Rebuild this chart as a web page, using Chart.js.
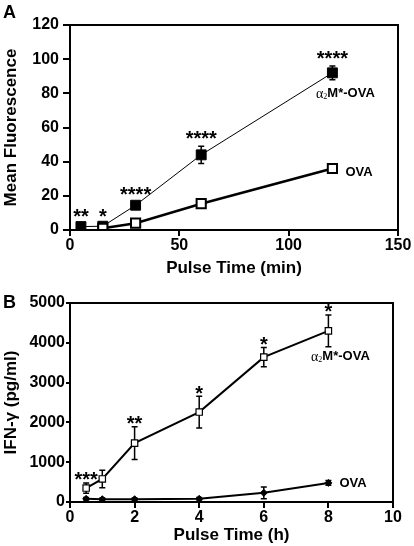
<!DOCTYPE html>
<html>
<head>
<meta charset="utf-8">
<script src="https://cdn.jsdelivr.net/npm/chart.js@4.4.1/dist/chart.umd.min.js"></script>
<style>
html, body { margin: 0; padding: 0; background: #fff; }
#wrapA { position: absolute; left: 0; top: 0; width: 414px; height: 280px; }
#wrapB { position: absolute; left: 0; top: 276px; width: 414px; height: 270px; }
</style>
</head>
<body>
<div id="wrapA"><canvas id="chartA"></canvas></div>
<div id="wrapB"><canvas id="chartB"></canvas></div>
<script>
// Panel A - mean fluorescence vs pulse time (min)
const a2mTimeA = [5, 15, 30, 60, 120];
const a2mMeanA = [2, 2.2, 14.5, 44, 92];
const a2mErrA = [1, 1, 1.5, 5, 4];
const a2mStarsA = ['**', '*', '****', '****', '****'];
const ovaTimeA = [15, 30, 60, 120];
const ovaMeanA = [1, 4, 15.4, 36];
const ovaErrA = [0.5, 0.7, 1, 2];
const xTicksA = [0, 50, 100, 150];
const yTicksA = [0, 20, 40, 60, 80, 100, 120];

// Panel B - IFN-gamma vs pulse time (h)
const a2mTimeB = [0.5, 1, 2, 4, 6, 8];
const a2mMeanB = [350, 580, 1480, 2260, 3640, 4300];
const a2mErrB = [130, 220, 410, 400, 240, 400];
const a2mStarsB = ['***', '', '**', '*', '*', '*'];
const ovaTimeB = [0.5, 1, 2, 4, 6, 8];
const ovaMeanB = [80, 70, 70, 80, 230, 480];
const ovaErrB = [30, 30, 30, 30, 150, 60];
const xTicksB = [0, 2, 4, 6, 8, 10];
const yLabelsB = [0, 1000, 2000, 3000, 4000, 5000];

const FONT = "'Liberation Sans', Arial, Helvetica, sans-serif";

function series(xs, ys, errs, style) {
    return Object.assign({
        data: xs.map((x, i) => ({ x: x, y: ys[i] })),
        errors: errs,
        showLine: true,
        borderColor: '#000',
        pointBorderColor: '#000',
    }, style);
}

// error bars, frame, stars, series labels and panel letter
const extras = {
    id: 'extras',
    beforeDatasetsDraw(chart) {
        const ctx = chart.ctx, xs = chart.scales.x, ys = chart.scales.y;
        ctx.save();
        ctx.strokeStyle = '#000';
        ctx.lineWidth = 1.5;
        chart.data.datasets.forEach(ds => {
            (ds.errors || []).forEach((e, i) => {
                const p = ds.data[i];
                const px = xs.getPixelForValue(p.x);
                const top = ys.getPixelForValue(p.y + e);
                const bot = ys.getPixelForValue(Math.max(p.y - e, 0));
                ctx.beginPath();
                ctx.moveTo(px, top); ctx.lineTo(px, bot);
                ctx.moveTo(px - 3, top); ctx.lineTo(px + 3, top);
                ctx.moveTo(px - 3, bot); ctx.lineTo(px + 3, bot);
                ctx.stroke();
            });
        });
        ctx.restore();
    },
    afterDraw(chart, args, opts) {
        const ctx = chart.ctx, xs = chart.scales.x, ys = chart.scales.y;
        const area = chart.chartArea;
        ctx.save();
        // frame
        ctx.strokeStyle = '#000';
        ctx.lineWidth = 2;
        ctx.strokeRect(area.left, area.top, area.right - area.left, area.bottom - area.top);

        // significance stars
        ctx.fillStyle = '#000';
        ctx.textAlign = 'center';
        ctx.textBaseline = 'middle';
        ctx.font = 'bold 20px ' + FONT;
        chart.data.datasets.forEach(ds => {
            (ds.stars || []).forEach((s, i) => {
                if (!s) return;
                const p = ds.data[i];
                const px = xs.getPixelForValue(p.x);
                const top = ys.getPixelForValue(p.y + ds.errors[i]);
                ctx.fillText(s, px, top - opts.starGap + 4);
            });
        });

        // series labels next to the last point
        opts.labels.forEach(lb => {
            const ds = chart.data.datasets[lb.ds];
            const p = ds.data[ds.data.length - 1];
            const px = xs.getPixelForValue(p.x) + lb.dx;
            const py = ys.getPixelForValue(p.y) + lb.dy;
            ctx.textBaseline = 'middle';
            if (lb.alpha) {
                const parts = [
                    { t: '\u03b1', f: '14px "Liberation Serif", "DejaVu Serif", serif', dy: 0 },
                    { t: '2', f: '8px "Liberation Serif", serif', dy: 3 },
                    { t: 'M*-OVA', f: 'bold 13px ' + FONT, dy: 0 },
                ];
                let w = 0;
                parts.forEach(pt => { ctx.font = pt.f; pt.w = ctx.measureText(pt.t).width; w += pt.w; });
                let cx = px - w / 2;
                ctx.textAlign = 'left';
                parts.forEach(pt => { ctx.font = pt.f; ctx.fillText(pt.t, cx, py + pt.dy); cx += pt.w; });
            } else {
                ctx.font = 'bold 13px ' + FONT;
                ctx.textAlign = 'left';
                ctx.fillText(lb.text, px, py);
            }
        });

        // panel letter
        ctx.font = 'bold 18px ' + FONT;
        ctx.textAlign = 'left';
        ctx.textBaseline = 'middle';
        ctx.fillText(opts.letter, 3, opts.letterY);
        ctx.restore();
    }
};

function axisTicks(values) {
    return scale => { scale.ticks = values.map(v => ({ value: v })); };
}

function panel(canvasId, cfg) {
    const tickFont = { family: FONT, size: 16, weight: 'bold' };
    const titleFont = { family: FONT, size: 17, weight: 'bold' };
    return new Chart(document.getElementById(canvasId), {
        type: 'scatter',
        data: { datasets: cfg.datasets },
        options: {
            responsive: true,
            maintainAspectRatio: false,
            animation: false,
            layout: { padding: { top: cfg.padTop, right: cfg.padRight, left: 0, bottom: 0 } },
            plugins: {
                legend: { display: false },
                tooltip: { enabled: false },
                extras: cfg.extras,
            },
            scales: {
                x: {
                    type: 'linear',
                    min: cfg.xMin, max: cfg.xMax,
                    afterBuildTicks: axisTicks(cfg.xTicks),
                    afterFit: s => { s.height = cfg.xHeight; },
                    ticks: { color: '#000', font: tickFont, padding: 0, maxRotation: 0 },
                    grid: { drawOnChartArea: false, color: '#000', lineWidth: 2, tickLength: 6 },
                    border: { display: true, color: '#000', width: 2 },
                    title: { display: true, text: cfg.xTitle, color: '#000', font: titleFont, padding: { top: 0, bottom: cfg.xTitlePad } },
                },
                y: {
                    type: 'linear',
                    min: cfg.yMin, max: cfg.yMax,
                    afterBuildTicks: axisTicks(cfg.yTicks),
                    afterFit: s => { s.width = 70; },
                    ticks: {
                        color: '#000', font: tickFont, padding: cfg.yTickPad,
                        callback: cfg.yLabel || (v => v),
                    },
                    grid: { drawOnChartArea: false, color: '#000', lineWidth: 2, tickLength: cfg.yTickLen },
                    border: { display: true, color: '#000', width: 2 },
                    title: { display: true, text: cfg.yTitle, color: '#000', font: titleFont, padding: { top: 1, bottom: 0 } },
                }
            }
        },
        plugins: [extras]
    });
}

panel('chartA', {
    datasets: [
        series(ovaTimeA, ovaMeanA, ovaErrA, {
            pointStyle: 'rect', pointRadius: 6.5, pointBackgroundColor: '#fff',
            pointBorderWidth: 2, borderWidth: 2.5,
        }),
        Object.assign(series(a2mTimeA, a2mMeanA, a2mErrA, {
            pointStyle: 'rect', pointRadius: 7, pointBackgroundColor: '#000',
            pointBorderWidth: 1, borderWidth: 1,
        }), { stars: a2mStarsA }),
    ],
    padTop: 25, padRight: 16,
    xMin: 0, xMax: 150, xTicks: xTicksA, xHeight: 50, xTitle: 'Pulse Time (min)', xTitlePad: 1,
    yMin: 0, yMax: 120, yTicks: yTicksA, yTitle: 'Mean Fluorescence', yTickLen: 7, yTickPad: 4,
    extras: {
        letter: 'A', letterY: 13, starGap: 11,
        labels: [
            { ds: 1, alpha: true, dx: 13, dy: 21 },
            { ds: 0, text: 'OVA', dx: 13, dy: 4 },
        ]
    }
});

const yStepsB = [];
for (let v = 0; v <= 5000; v += 500) yStepsB.push(v);

panel('chartB', {
    datasets: [
        Object.assign(series(a2mTimeB, a2mMeanB, a2mErrB, {
            pointStyle: 'rect', pointRadius: 4.5, pointBackgroundColor: '#fff',
            pointBorderWidth: 1.2, borderWidth: 2,
        }), { stars: a2mStarsB }),
        series(ovaTimeB, ovaMeanB, ovaErrB, {
            pointStyle: 'rectRot', pointRadius: 3.5, pointBackgroundColor: '#000',
            pointBorderWidth: 1, borderWidth: 2,
        }),
    ],
    padTop: 27, padRight: 21,
    xMin: 0, xMax: 10, xTicks: xTicksB, xHeight: 44, xTitle: 'Pulse Time (h)', xTitlePad: 0,
    yMin: 0, yMax: 5000, yTicks: yStepsB, yTitle: 'IFN-\u03b3 (pg/ml)', yTickLen: 4, yTickPad: 1,
    yLabel: v => (yLabelsB.includes(v) ? v : ''),
    extras: {
        letter: 'B', letterY: 27, starGap: 6,
        labels: [
            { ds: 0, alpha: true, dx: 12, dy: 26 },
            { ds: 1, text: 'OVA', dx: 11, dy: 1 },
        ]
    }
});
</script>
</body>
</html>
